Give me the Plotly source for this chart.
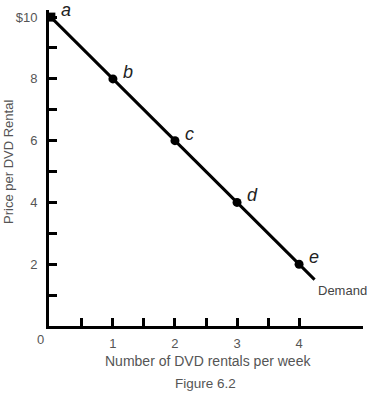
import plotly.graph_objects as go

# Data
point_labels = ["a", "b", "c", "d", "e"]
quantity = [0, 1, 2, 3, 4]
price = [10, 8, 6, 4, 2]
demand_x = [0, 4.25]
demand_y = [10, 1.5]
x_tick_vals = [0.5, 1, 1.5, 2, 2.5, 3, 3.5, 4]
x_tick_text = ["", "1", "", "2", "", "3", "", "4"]
y_tick_vals = [1, 2, 3, 4, 5, 6, 7, 8, 9, 10]
y_tick_text = ["", "2", "", "4", "", "6", "", "8", "", "$10"]

FONT = "Liberation Sans, Arial, sans-serif"
GRAY = "#555555"

fig = go.Figure()
fig.add_trace(go.Scatter(x=demand_x, y=demand_y, mode="lines",
                         line=dict(color="black", width=3), hoverinfo="skip"))
fig.add_trace(go.Scatter(x=quantity[1:], y=price[1:], mode="markers",
                         marker=dict(color="black", size=9, symbol="circle")))
fig.add_trace(go.Scatter(x=quantity[:1], y=price[:1], mode="markers",
                         marker=dict(color="black", size=9, symbol="square"),
                         cliponaxis=False))

annotations = []
for lbl, xv, yv in zip(point_labels, quantity, price):
    annotations.append(dict(x=xv, y=yv, xref="x", yref="y", text=f"<i>{lbl}</i>",
                            showarrow=False, xanchor="left", yanchor="bottom",
                            xshift=8, yshift=-5,
                            font=dict(family=FONT, size=18, color="#222")))
annotations.append(dict(x=demand_x[1], y=demand_y[1], xref="x", yref="y", text="Demand",
                        showarrow=False, xanchor="left", yanchor="top", xshift=1, yshift=-1,
                        font=dict(family=FONT, size=13, color="#444")))
annotations.append(dict(x=0, y=0, xref="x", yref="y", text="0", showarrow=False,
                        xanchor="right", yanchor="top", xshift=-5, yshift=-4,
                        font=dict(family=FONT, size=13, color=GRAY)))
annotations.append(dict(x=8, y=162, xref="paper", yref="paper", text="Price per DVD Rental",
                        showarrow=False, textangle=-90, xanchor="center", yanchor="middle",
                        font=dict(family=FONT, size=13, color=GRAY)))
annotations.append(dict(x=208, y=361, xref="paper", yref="paper",
                        text="Number of DVD rentals per week", showarrow=False,
                        xanchor="center", yanchor="middle",
                        font=dict(family=FONT, size=14, color=GRAY)))
annotations.append(dict(x=205, y=383, xref="paper", yref="paper", text="Figure 6.2",
                        showarrow=False, xanchor="center", yanchor="middle",
                        font=dict(family=FONT, size=13.5, color=GRAY)))

# convert pixel-based paper coords
W, H = 371, 396
L, R, T, B = 49, 8, 10, 70
pw, ph = W - L - R, H - T - B
for a in annotations:
    if a["xref"] == "paper":
        a["x"] = (a["x"] - L) / pw
        a["y"] = (H - B - a["y"]) / ph

fig.update_layout(
    width=W, height=H,
    margin=dict(l=L, r=R, t=T, b=B, autoexpand=False),
    paper_bgcolor="white", plot_bgcolor="white",
    showlegend=False,
    annotations=annotations,
    xaxis=dict(range=[-0.03, 5.03], tickvals=x_tick_vals, ticktext=x_tick_text,
               ticks="inside", ticklen=8, tickwidth=2.5, tickcolor="black",
               showline=True, linecolor="black", linewidth=3, showgrid=False,
               zeroline=False, tickfont=dict(family=FONT, size=13, color=GRAY),
               ticklabelstandoff=3, fixedrange=True, automargin=False),
    yaxis=dict(range=[0, 10.23], tickvals=y_tick_vals, ticktext=y_tick_text,
               ticks="inside", ticklen=8, tickwidth=2.5, tickcolor="black",
               showline=True, linecolor="black", linewidth=3, showgrid=False,
               zeroline=False, tickfont=dict(family=FONT, size=13, color=GRAY),
               ticklabelstandoff=6, fixedrange=True, automargin=False),
)

fig.write_html("out.html", config={"displayModeBar": False},
               post_script="document.body.style.margin='0';document.body.style.overflow='hidden';")
